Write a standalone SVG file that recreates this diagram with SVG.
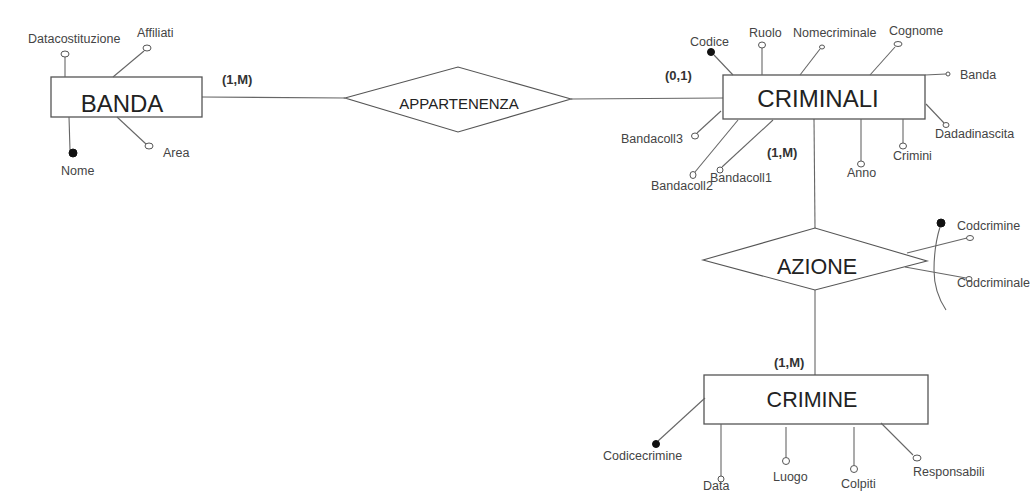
<svg xmlns="http://www.w3.org/2000/svg" width="1034" height="494" viewBox="0 0 1034 494">
<style>
.ent{fill:#fff;stroke:#555;stroke-width:1.3}
.rel{fill:#fff;stroke:#555;stroke-width:1.1}
.ln{stroke:#666;stroke-width:1.1;fill:none}
.oc{fill:#fff;stroke:#555;stroke-width:1}
.fc{fill:#111;stroke:#111;stroke-width:1}
.big{font-family:"Liberation Sans",Arial,sans-serif;fill:#222}
.lbl{font-family:"Liberation Sans",Arial,sans-serif;font-size:12.5px;fill:#444}
.card{font-family:"Liberation Sans",Arial,sans-serif;font-size:13px;font-weight:bold;fill:#333}
</style>
<rect width="1034" height="494" fill="#fff"/>
<g id="connectors">
<line class="ln" x1="202" y1="97" x2="345" y2="98"/>
<line class="ln" x1="571" y1="99" x2="723" y2="98"/>
<line class="ln" x1="814" y1="119" x2="815" y2="228"/>
<line class="ln" x1="815" y1="290" x2="815" y2="375"/>
<text class="card" x="222" y="84">(1,M)</text>
<text class="card" x="665" y="80">(0,1)</text>
<text class="card" x="767" y="157">(1,M)</text>
<text class="card" x="774" y="367">(1,M)</text>
</g>
<g id="banda">
<rect class="ent" x="51" y="77" width="151" height="40"/>
<text class="big" x="122" y="112" font-size="24" text-anchor="middle">BANDA</text>
</g>
<g id="banda-attrs">
<line class="ln" x1="65" y1="57" x2="65" y2="77"/>
<ellipse class="oc" cx="65" cy="54" rx="4" ry="3"/>
<text class="lbl" x="28" y="43">Datacostituzione</text>
<line class="ln" x1="144" y1="51" x2="113" y2="77"/>
<ellipse class="oc" cx="147" cy="48" rx="4" ry="3"/>
<text class="lbl" x="137" y="37">Affiliati</text>
<line class="ln" x1="69" y1="117" x2="70" y2="150"/>
<circle class="fc" cx="73" cy="153" r="4"/>
<text class="lbl" x="61" y="175">Nome</text>
<line class="ln" x1="117" y1="117" x2="146" y2="144"/>
<ellipse class="oc" cx="149" cy="146" rx="4" ry="3"/>
<text class="lbl" x="163" y="157">Area</text>
</g>
<g id="appartenenza">
<polygon class="rel" points="345,98 458,67 571,99 458,132"/>
<text class="big" x="459" y="109" font-size="15" text-anchor="middle">APPARTENENZA</text>
</g>
<g id="criminali">
<rect class="ent" x="723" y="75" width="202" height="44"/>
<text class="big" x="818" y="107" font-size="24" text-anchor="middle">CRIMINALI</text>
</g>
<g id="criminali-attrs">
<line class="ln" x1="714" y1="55" x2="733" y2="75"/>
<circle class="fc" cx="711" cy="52" r="3.5"/>
<text class="lbl" x="690" y="46">Codice</text>
<line class="ln" x1="762" y1="48" x2="762" y2="75"/>
<ellipse class="oc" cx="762" cy="45" rx="3.5" ry="3"/>
<text class="lbl" x="749" y="37">Ruolo</text>
<line class="ln" x1="820" y1="49" x2="800" y2="75"/>
<ellipse class="oc" cx="822" cy="47" rx="2.5" ry="2"/>
<text class="lbl" x="793" y="37">Nomecriminale</text>
<line class="ln" x1="895" y1="47" x2="870" y2="75"/>
<ellipse class="oc" cx="898" cy="44" rx="4" ry="2.5"/>
<text class="lbl" x="889" y="35">Cognome</text>
<line class="ln" x1="925" y1="75" x2="946" y2="74"/>
<circle class="oc" cx="948" cy="74" r="2"/>
<text class="lbl" x="960" y="79">Banda</text>
<line class="ln" x1="926" y1="104" x2="944" y2="123"/>
<ellipse class="oc" cx="946" cy="125" rx="3" ry="2.5"/>
<text class="lbl" x="935" y="138">Dadadinascita</text>
<line class="ln" x1="903" y1="119" x2="903" y2="143"/>
<ellipse class="oc" cx="903" cy="146" rx="3.5" ry="3"/>
<text class="lbl" x="893" y="160">Crimini</text>
<line class="ln" x1="861" y1="119" x2="861" y2="161"/>
<ellipse class="oc" cx="861" cy="164" rx="3.5" ry="3"/>
<text class="lbl" x="847" y="177">Anno</text>
<line class="ln" x1="721" y1="111" x2="697" y2="133"/>
<ellipse class="oc" cx="695" cy="136" rx="3.5" ry="3"/>
<text class="lbl" x="621" y="143">Bandacoll3</text>
<line class="ln" x1="738" y1="120" x2="695" y2="172"/>
<ellipse class="oc" cx="693" cy="175" rx="3" ry="3.5"/>
<text class="lbl" x="651" y="190">Bandacoll2</text>
<line class="ln" x1="773" y1="120" x2="722" y2="167"/>
<ellipse class="oc" cx="720" cy="170" rx="3" ry="3"/>
<text class="lbl" x="710" y="182">Bandacoll1</text>
</g>
<g id="azione">
<polygon class="rel" points="703,260 815,228 927,261 815,290"/>
<text class="big" x="817" y="274" font-size="21.5" text-anchor="middle">AZIONE</text>
</g>
<g id="azione-attrs">
<path class="ln" d="M940,227 C936,240 934,255 934,270 C934,285 938,298 946,310"/>
<circle class="fc" cx="941" cy="223" r="4"/>
<line class="ln" x1="907" y1="253" x2="967" y2="238"/>
<ellipse class="oc" cx="970" cy="238" rx="3.5" ry="2.5"/>
<text class="lbl" x="957" y="230">Codcrimine</text>
<line class="ln" x1="905" y1="267" x2="966" y2="278"/>
<ellipse class="oc" cx="969" cy="279" rx="3" ry="2.5"/>
<text class="lbl" x="957" y="287">Codcriminale</text>
</g>
<g id="crimine">
<rect class="ent" x="704" y="375" width="224" height="49"/>
<text class="big" x="812" y="407" font-size="21.5" text-anchor="middle">CRIMINE</text>
</g>
<g id="crimine-attrs">
<line class="ln" x1="705" y1="398" x2="658" y2="441"/>
<circle class="fc" cx="656" cy="444" r="3.5"/>
<text class="lbl" x="603" y="460">Codicecrimine</text>
<line class="ln" x1="721" y1="424" x2="721" y2="476"/>
<ellipse class="oc" cx="721" cy="479" rx="3" ry="3"/>
<text class="lbl" x="703" y="490">Data</text>
<line class="ln" x1="786" y1="427" x2="786" y2="457"/>
<ellipse class="oc" cx="786" cy="461" rx="3.5" ry="3.5"/>
<text class="lbl" x="773" y="481">Luogo</text>
<line class="ln" x1="854" y1="427" x2="854" y2="465"/>
<ellipse class="oc" cx="854" cy="469" rx="3.5" ry="3.5"/>
<text class="lbl" x="841" y="488">Colpiti</text>
<line class="ln" x1="881" y1="423" x2="913" y2="455"/>
<ellipse class="oc" cx="917" cy="458" rx="4" ry="3"/>
<text class="lbl" x="913" y="476">Responsabili</text>
</g>
</svg>
